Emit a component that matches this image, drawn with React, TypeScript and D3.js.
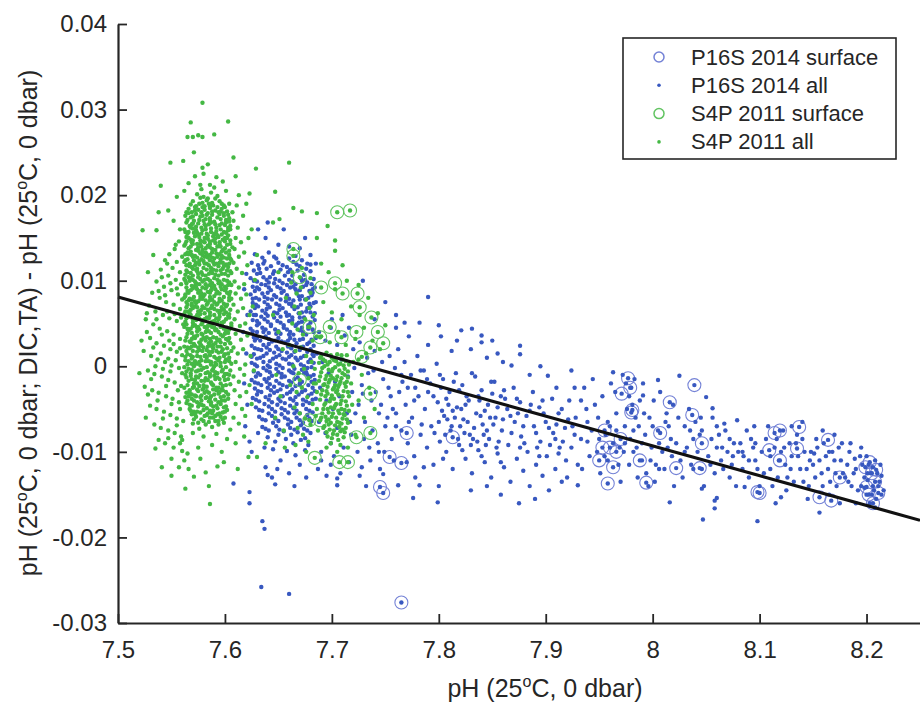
import { useEffect, useRef } from 'react';
import * as d3 from 'd3';

const WIDTH = 920;
const HEIGHT = 705;
const PLOT = { left: 118, right: 920, top: 24, bottom: 623 };

const X_TICKS = [7.5, 7.6, 7.7, 7.8, 7.9, 8.0, 8.1, 8.2];
const Y_TICKS = [-0.03, -0.02, -0.01, 0, 0.01, 0.02, 0.03, 0.04];

const SERIES_NAMES = ['P16S 2014 surface', 'P16S 2014 all', 'S4P 2011 surface', 'S4P 2011 all'];

// fitted line, end points at the axis limits
const FIT_X = [7.5, 8.25];
const FIT_Y = [0.0081, -0.018];

// points are stored as flat pairs:
// first = (pH - 7.5) * 1000, second = ΔpH * 10000

// S4P 2011 surface samples (also part of "all")
const S4P_SURFACE = [
  205, 180, 217, 182, 164, 137, 164, 129, 170, 104, 190, 92, 203, 97, 210, 85, 224, 85, 226, 69,
  237, 57, 223, 40, 243, 40, 179, 46, 198, 46, 189, 34, 209, 34, 248, 27, 236, 22, 228, 11,
  236, -32, 170, -16, 179, -63, 189, -63, 223, -83, 236, -78, 184, -107, 207, -112, 215, -112,
];

// P16S 2014 surface samples (also part of "all")
const P16S_SURFACE = [
  254, -106, 265, -113, 245, -141, 248, -148, 265, -276, 313, -83, 270, -78, 460, -95,
  477, -14, 479, -25, 471, -32, 481, -51, 480, -54, 453, -95, 463, -118, 458, -137, 488, -110,
  494, -136, 455, -75, 470, -85, 466, -100, 450, -110, 516, -42, 539, -22, 537, -57, 507, -78,
  522, -119, 546, -90, 544, -119, 598, -147, 600, -148, 614, -78, 619, -75, 637, -71, 635, -96,
  609, -98, 619, -110, 664, -86, 656, -153, 667, -157, 675, -130, 703, -112, 709, -121,
  700, -141, 705, -125, 708, -135, 702, -150, 711, -148, 699, -118, 706, -160,
];

// S4P 2011 all samples
const S4P_ALL = [
  // dense column near pH 7.58
  74, 201, 80, 198, 87, 203, 93, 199, 78, 207, 90, 209, 84, 196,
  70, 193, 76, 190, 83, 194, 88, 191, 95, 193, 99, 188, 72, 186, 81, 187,
  66, 184, 69, 180, 75, 183, 79, 186, 86, 185, 91, 182, 97, 184, 102, 181, 84, 179,
  63, 176, 68, 174, 73, 178, 77, 175, 82, 172, 88, 177, 93, 174, 99, 176, 104, 173, 71, 170,
  64, 168, 67, 164, 75, 167, 80, 170, 85, 166, 90, 169, 95, 165, 101, 168, 105, 164, 78, 162,
  62, 160, 66, 157, 70, 161, 74, 156, 79, 159, 83, 155, 87, 161, 92, 158, 97, 154, 103, 159, 89, 152,
  64, 151, 68, 148, 72, 152, 77, 147, 81, 150, 86, 146, 91, 149, 95, 145, 100, 150, 105, 147, 74, 143,
  62, 141, 66, 138, 70, 143, 75, 139, 79, 136, 84, 141, 88, 137, 93, 140, 98, 136, 102, 142, 107, 139, 82, 133,
  63, 131, 68, 134, 72, 129, 77, 132, 81, 128, 86, 130, 90, 126, 95, 131, 99, 127, 104, 130, 65, 125,
  62, 122, 67, 120, 71, 124, 76, 119, 80, 123, 85, 118, 89, 122, 94, 117, 98, 121, 103, 116, 106, 124, 74, 114,
  64, 112, 68, 109, 73, 113, 78, 110, 82, 106, 87, 111, 91, 107, 96, 112, 100, 108, 105, 111, 66, 104,
  62, 102, 70, 101, 75, 104, 79, 99, 84, 102, 88, 97, 93, 101, 97, 96, 102, 100, 106, 95, 72, 94,
  64, 92, 68, 89, 73, 93, 77, 88, 82, 91, 86, 86, 91, 90, 95, 85, 100, 89, 104, 84, 63, 84, 80, 82,
  62, 80, 66, 77, 71, 81, 75, 76, 79, 79, 84, 74, 88, 78, 93, 73, 97, 77, 102, 72, 106, 79, 69, 71,
  64, 69, 68, 66, 72, 70, 77, 65, 81, 68, 86, 63, 90, 67, 95, 62, 99, 66, 104, 61, 62, 61, 74, 60,
  66, 58, 70, 55, 75, 59, 79, 54, 83, 57, 88, 52, 92, 56, 97, 51, 101, 55, 106, 50, 63, 52, 85, 48,
  62, 46, 68, 44, 72, 48, 76, 43, 81, 46, 85, 41, 90, 45, 94, 40, 99, 44, 103, 39, 65, 38, 79, 37,
  64, 34, 69, 32, 74, 36, 78, 31, 83, 34, 87, 29, 92, 33, 96, 28, 101, 32, 105, 27, 71, 26, 89, 25,
  62, 23, 67, 21, 72, 24, 76, 19, 80, 22, 85, 17, 89, 21, 94, 16, 98, 20, 103, 15, 65, 14, 82, 13,
  63, 11, 69, 9, 74, 12, 78, 7, 83, 10, 87, 5, 92, 9, 96, 4, 101, 8, 106, 3, 71, 2, 90, 0,
  62, -1, 66, -3, 71, 0, 75, -5, 80, -2, 84, -7, 89, -3, 93, -8, 98, -4, 102, -9, 68, -11, 86, -12,
  64, -13, 69, -15, 73, -12, 78, -17, 82, -14, 87, -19, 91, -15, 96, -20, 100, -16, 105, -21, 76, -23, 94, -25,
  62, -25, 67, -28, 71, -24, 75, -29, 80, -26, 85, -31, 89, -27, 94, -32, 98, -28, 103, -33, 66, -35, 83, -36,
  69, -38, 73, -35, 78, -40, 82, -37, 87, -42, 91, -39, 96, -44, 100, -40, 64, -43, 75, -47, 93, -49,
  67, -50, 71, -53, 80, -51, 84, -55, 89, -52, 98, -54, 102, -51, 73, -59, 78, -62, 86, -60, 91, -64, 96, -59,
  70, -67, 82, -68, 88, -71, 94, -68, 76, -73, 99, -66,
  85, 190, 91, 196, 77, 197, 73, 187, 81, 183, 89, 188, 96, 181, 100, 186,
  66, 179, 70, 175, 79, 176, 86, 173, 95, 178, 101, 171, 69, 166, 73, 163, 82, 164, 87, 168, 92, 162, 97, 167, 103, 162,
  65, 155, 71, 156, 76, 151, 84, 153, 90, 155, 94, 151, 99, 157, 103, 153,
  64, 146, 69, 145, 77, 143, 81, 145, 86, 139, 91, 144, 96, 140, 100, 146, 104, 135,
  66, 131, 70, 128, 75, 135, 79, 130, 84, 127, 88, 133, 93, 128, 97, 134, 102, 126,
  64, 118, 69, 116, 73, 121, 78, 125, 83, 120, 87, 115, 92, 120, 96, 125, 101, 119,
  63, 107, 70, 114, 75, 108, 80, 115, 85, 108, 89, 113, 94, 106, 98, 114, 103, 106,
  64, 97, 67, 100, 73, 97, 77, 102, 82, 96, 86, 100, 90, 94, 95, 99, 100, 93, 104, 98,
  66, 86, 70, 91, 75, 86, 79, 92, 84, 87, 88, 92, 93, 87, 97, 90, 102, 86,
  64, 75, 69, 78, 73, 74, 77, 82, 82, 77, 86, 81, 90, 75, 95, 79, 99, 73, 104, 77,
  66, 64, 70, 68, 75, 64, 79, 70, 84, 66, 88, 71, 93, 65, 97, 69, 101, 63,
  64, 56, 68, 60, 73, 54, 77, 61, 81, 55, 86, 59, 90, 53, 95, 58, 99, 52, 104, 57,
  66, 42, 70, 47, 74, 41, 78, 49, 83, 44, 87, 50, 92, 43, 96, 46, 101, 41,
  67, 29, 71, 35, 76, 28, 80, 33, 85, 27, 89, 34, 93, 30, 98, 35, 103, 30,
  64, 18, 69, 23, 74, 17, 78, 24, 83, 19, 87, 24, 92, 18, 96, 23, 100, 14,
  66, 6, 70, 11, 76, 5, 81, 12, 85, 6, 90, 11, 94, 7, 99, 12, 104, 6,
  64, -6, 69, 3, 73, -6, 77, 1, 82, -8, 87, 2, 91, -7, 96, 0, 100, -9,
  66, -17, 71, -20, 75, -13, 80, -22, 84, -16, 89, -22, 93, -13, 98, -23, 103, -15,
  64, -31, 69, -33, 74, -27, 78, -34, 83, -29, 87, -35, 92, -28, 96, -36, 101, -30,
  67, -45, 71, -40, 76, -44, 80, -46, 85, -41, 89, -47, 94, -42, 99, -48,
  69, -56, 74, -53, 83, -57, 88, -55, 93, -56, 100, -60,
  68, 189, 79, 191, 86, 187, 93, 186, 97, 190,
  64, 180, 72, 182, 78, 180, 83, 177, 88, 181, 94, 180, 99, 179, 103, 177,
  65, 171, 70, 167, 76, 171, 81, 166, 86, 170, 91, 166, 96, 172, 100, 165, 104, 169,
  63, 157, 68, 162, 73, 159, 78, 155, 82, 160, 87, 157, 92, 154, 96, 160, 101, 156, 105, 160,
  66, 150, 70, 147, 75, 154, 80, 146, 84, 149, 89, 147, 93, 153, 98, 148, 102, 150,
  63, 143, 68, 140, 73, 136, 78, 140, 82, 138, 86, 143, 91, 136, 95, 142, 100, 138, 105, 143,
  65, 133, 69, 130, 74, 127, 79, 134, 83, 131, 88, 127, 92, 132, 97, 129, 101, 133, 105, 126,
  63, 124, 67, 117, 72, 118, 76, 123, 81, 120, 86, 124, 90, 119, 95, 121, 99, 117, 104, 120,
  65, 110, 70, 106, 74, 111, 79, 107, 83, 113, 88, 109, 92, 112, 97, 108, 102, 112, 106, 109,
  63, 100, 68, 103, 72, 99, 76, 96, 81, 101, 86, 95, 90, 103, 94, 97, 99, 101, 103, 95,
  65, 88, 69, 94, 74, 90, 78, 85, 83, 93, 87, 89, 92, 85, 96, 93, 101, 91, 105, 87,
  63, 82, 67, 79, 72, 76, 77, 79, 81, 84, 86, 77, 90, 82, 95, 76, 99, 81, 104, 80,
  65, 72, 69, 73, 74, 69, 78, 66, 83, 72, 87, 68, 92, 72, 96, 65, 101, 70, 105, 66,
  63, 64, 67, 62, 72, 57, 76, 56, 81, 62, 85, 56, 90, 60, 94, 55, 99, 61, 103, 59,
  64, 49, 70, 51, 75, 46, 79, 51, 84, 47, 88, 46, 93, 51, 97, 49, 102, 45, 106, 47,
  65, 44, 69, 39, 74, 45, 78, 38, 82, 40, 87, 39, 91, 42, 96, 37, 100, 38, 104, 43,
  63, 30, 68, 28, 72, 33, 77, 26, 82, 30, 86, 32, 91, 27, 95, 31, 100, 26, 104, 33,
  65, 22, 70, 18, 75, 22, 79, 18, 84, 23, 88, 17, 93, 23, 97, 17, 102, 21, 106, 18,
  63, 7, 68, 13, 72, 6, 77, 11, 82, 6, 86, 13, 91, 4, 95, 10, 100, 5, 104, 10,
  65, 2, 69, -4, 74, 3, 78, -4, 83, -1, 88, -5, 92, 2, 97, -6, 101, -1, 105, -5,
  63, -10, 68, -8, 72, -16, 77, -10, 81, -17, 86, -9, 90, -11, 95, -15, 99, -12, 104, -10,
  65, -22, 70, -25, 74, -20, 79, -27, 83, -24, 88, -21, 92, -25, 97, -27, 101, -22,
  63, -36, 67, -31, 72, -34, 77, -36, 81, -31, 86, -38, 90, -33, 95, -30, 99, -35, 103, -38,
  65, -40, 69, -46, 74, -42, 78, -45, 83, -49, 87, -45, 92, -46, 97, -40, 101, -47,
  68, -52, 72, -56, 77, -54, 81, -58, 86, -52, 91, -58, 95, -55, 100, -53,
  71, -62, 75, -66, 80, -64, 85, -65, 89, -60, 94, -64, 98, -62,
  // right edge of the column
  108, 170, 112, 162, 110, 150, 115, 145, 109, 137, 113, 128, 118, 133, 108, 121, 111, 114, 116, 109,
  121, 118, 109, 99, 113, 92, 118, 96, 110, 85, 115, 79, 120, 84, 108, 72, 112, 64, 117, 68,
  123, 60, 109, 55, 114, 47, 119, 50, 110, 38, 115, 31, 121, 36, 108, 22, 112, 15, 117, 20,
  124, 12, 110, 5, 114, -3, 119, 2, 108, -12, 113, -18, 118, -10, 123, -22, 109, -28, 114, -35,
  120, -30, 110, -44, 116, -50, 108, -60, 113, -67, 119, -58, 125, -44, 127, -5, 126, 70, 122, 150,
  128, 101, 107, 180, 111, 188, 104, 190, 117, 176, 125, 160, 130, 130,
  // upper tail
  79, 308, 68, 285, 103, 286, 65, 268, 70, 268, 75, 270, 79, 268, 90, 271, 71, 250, 108, 244,
  49, 238, 61, 240, 79, 232, 84, 236, 80, 225, 160, 238, 129, 231, 40, 211, 66, 214, 77, 212,
  98, 216, 123, 202, 147, 204, 38, 180, 47, 182, 164, 185, 172, 181, 186, 179, 110, 222, 23, 159,
  36, 159, 145, 168, 151, 172, 55, 198, 92, 221, 72, 222, 86, 212, 101, 205, 62, 205, 113, 200,
  120, 190, 52, 170, 58, 160, 33, 130, 28, 110,
  // left halo
  57, 146, 53, 137, 60, 128, 48, 131, 55, 122, 44, 124, 51, 115, 58, 110, 40, 113, 47, 106,
  54, 101, 59, 96, 36, 99, 43, 93, 50, 89, 56, 84, 32, 86, 39, 80, 45, 75, 52, 72,
  58, 67, 29, 71, 35, 64, 42, 60, 48, 56, 55, 53, 61, 49, 26, 55, 33, 49, 39, 44,
  46, 41, 52, 37, 58, 32, 30, 33, 36, 27, 43, 24, 49, 20, 55, 17, 60, 13, 24, 18,
  31, 12, 37, 8, 44, 5, 50, 1, 57, -2, 28, -5, 34, -9, 41, -12, 47, -16, 53, -19,
  59, -23, 25, -24, 32, -28, 38, -31, 45, -35, 51, -38, 57, -42, 30, -46, 36, -50, 43, -53,
  49, -57, 55, -61, 61, -64, 34, -68, 40, -72, 47, -75, 53, -78, 59, -82, 44, -90, 52, -95,
  60, -99, 38, -86, 54, 142, 46, 120, 41, 104, 49, 97, 55, 91, 38, 88, 44, 83, 60, 78,
  27, 62, 46, 64, 53, 61, 36, 55, 59, 57, 41, 37, 48, 30, 27, 40, 33, 22, 52, 26,
  58, 21, 40, 15, 47, 9, 54, 7, 35, 0, 42, -3, 60, -8, 49, -6, 31, -15, 45, -23,
  56, -28, 37, -40, 50, -44, 58, -50, 28, -33, 42, -61, 55, -69, 47, -84, 58, -90, 62, -110,
  50, -108, 35, -96, 26, -60, 22, 30, 20, -8,
  // lower tail
  50, -128, 63, -143, 71, -129, 82, -124, 86, -161, 93, -117, 60, -86, 65, -102, 75, -95, 88, -92,
  97, -100, 102, -85, 80, -82, 70, -78, 92, -79, 105, -74, 110, -90, 118, -82, 122, -106, 130, -106,
  77, -108, 99, -112, 85, -140, 57, -118, 41, -118, 66, -120, 112, -120,
  // mixed into the P16S cloud near pH 7.66
  162, 98, 167, 85, 171, 92, 176, 78, 180, 86, 165, 70, 170, 62, 175, 55, 179, 68, 183, 60,
  163, 50, 168, 43, 173, 37, 178, 46, 182, 30, 160, 25, 166, 18, 171, 22, 176, 12, 181, 5,
  164, 0, 169, -8, 174, -3, 178, -14, 183, -20, 161, -22, 167, -30, 172, -25, 177, -36, 182, -44,
  165, -48, 170, -55, 175, -61, 180, -68, 185, -58, 168, -72, 173, -80, 178, -88, 150, 40, 154, 20,
  148, -10, 152, -35, 145, 60, 157, 80, 147, -60, 155, -75, 186, 35, 184, -3, 186, -30, 163, 110,
  172, 115, 180, 103, 150, 110, 156, -95, 166, -92, 176, -100, 138, -90,
  // second column near pH 7.70
  190, 12, 195, 16, 200, 10, 205, 14, 210, 8, 214, 13, 188, 4, 193, 0, 198, 5, 203, -1,
  208, 3, 212, -3, 216, 2, 190, -7, 195, -11, 200, -6, 205, -12, 210, -8, 215, -13, 188, -17,
  193, -21, 198, -16, 203, -22, 208, -18, 213, -24, 191, -28, 196, -32, 201, -27, 206, -33, 211, -29,
  216, -35, 189, -39, 194, -43, 199, -38, 204, -44, 209, -40, 214, -46, 192, -50, 197, -54, 202, -49,
  207, -55, 212, -51, 190, -60, 195, -64, 200, -59, 205, -65, 210, -61, 215, -66, 193, -70, 198, -74,
  203, -69, 208, -76, 213, -72, 196, -82, 201, -79, 206, -86, 211, -83,
  192, 8, 197, -4, 202, 7, 207, -5, 212, -10, 196, -24, 201, -14, 206, -24, 194, -35, 199, -48,
  204, -30, 209, -50, 197, -62, 202, -38, 207, -66, 212, -57, 218, -20, 219, -45, 220, 5, 185, -20,
  186, -50, 187, -75,
  189, 10, 194, 6, 199, 13, 204, 6, 209, 13, 213, 6, 191, -2, 196, 2, 201, -3, 206, 2,
  211, 1, 215, -6, 189, -12, 194, -15, 199, -11, 204, -16, 209, -14, 214, -18, 192, -22, 197, -19,
  202, -25, 207, -21, 212, -20, 190, -33, 195, -29, 200, -34, 205, -28, 210, -35, 215, -30, 193, -45,
  198, -41, 203, -46, 208, -44, 213, -41, 191, -55, 196, -50, 201, -55, 206, -52, 211, -56, 216, -52,
  194, -59, 199, -66, 204, -60, 209, -67, 214, -62, 192, -72, 197, -68, 202, -75, 207, -71, 212, -77,
  195, -77, 200, -84, 205, -80, 210, -74, 199, -90, 208, -92,
  190, 35, 198, 28, 206, 40, 213, 25, 222, 32, 230, 45, 238, 30, 226, 60, 218, 70, 209, 55,
  200, 63, 192, 75, 203, 90, 214, 100, 225, 95, 234, 80, 243, 62, 250, 48, 245, 20, 232, 15,
  225, 8, 190, 120, 197, 110, 210, 118, 186, 150, 203, 147, 203, 135, 196, 164, 225, -40, 230, -60,
  222, -80, 235, -25, 228, -10, 240, -50, 215, -95, 205, -100, 195, -95,
];

// P16S 2014 all samples
const P16S_ALL = [
  // cloud near pH 7.63-7.68
  128, 131, 135, 127, 141, 133, 148, 126, 166, 129, 172, 124,
  125, 121, 131, 118, 137, 123, 143, 117, 150, 121, 158, 116, 164, 122, 170, 117, 177, 120,
  127, 112, 133, 109, 139, 114, 145, 108, 152, 113, 159, 110, 163, 106, 168, 112, 174, 107, 180, 111,
  124, 103, 130, 99, 136, 104, 141, 98, 147, 102, 154, 97, 160, 101, 166, 96, 171, 103, 177, 98, 183, 102,
  126, 93, 132, 90, 138, 95, 143, 89, 149, 93, 155, 88, 161, 92, 167, 87, 173, 93, 179, 88, 184, 92,
  124, 84, 129, 80, 135, 85, 140, 79, 146, 83, 152, 78, 158, 83, 164, 77, 169, 82, 175, 78, 181, 83,
  126, 74, 131, 70, 137, 75, 142, 69, 148, 73, 154, 68, 160, 73, 165, 67, 171, 72, 177, 68, 183, 74,
  124, 64, 129, 60, 135, 65, 140, 59, 146, 63, 152, 58, 157, 63, 163, 57, 169, 62, 174, 57, 180, 63,
  126, 54, 132, 50, 137, 55, 143, 49, 149, 53, 155, 48, 160, 53, 166, 47, 172, 52, 178, 48, 184, 54,
  124, 44, 130, 40, 135, 45, 141, 39, 147, 43, 152, 38, 158, 43, 164, 37, 170, 42, 176, 37, 182, 43,
  127, 34, 133, 30, 138, 35, 144, 29, 150, 33, 156, 28, 161, 33, 167, 27, 173, 32, 179, 28, 185, 33,
  125, 24, 131, 20, 136, 25, 142, 19, 148, 23, 153, 18, 159, 23, 165, 17, 171, 22, 177, 17, 183, 24,
  127, 14, 133, 10, 139, 15, 145, 9, 151, 13, 157, 8, 162, 13, 168, 7, 174, 12, 180, 8,
  125, 4, 130, 0, 136, 5, 142, -1, 148, 3, 154, -2, 160, 3, 165, -3, 171, 2, 177, -2, 183, 4,
  127, -6, 133, -10, 139, -5, 144, -11, 150, -7, 156, -12, 162, -7, 168, -13, 174, -8, 180, -12,
  125, -16, 131, -20, 137, -15, 142, -21, 148, -17, 154, -22, 160, -17, 166, -23, 172, -18, 178, -22, 184, -16,
  128, -26, 134, -30, 140, -25, 146, -31, 152, -27, 158, -32, 163, -27, 169, -33, 175, -28, 181, -32,
  126, -37, 132, -41, 138, -36, 144, -42, 150, -38, 156, -43, 161, -38, 167, -44, 173, -39, 179, -43, 185, -38,
  129, -48, 135, -52, 141, -47, 147, -53, 153, -49, 159, -54, 164, -49, 170, -55, 176, -50, 182, -54,
  132, -59, 138, -63, 144, -58, 150, -64, 156, -60, 162, -65, 167, -60, 173, -66, 179, -61,
  135, -71, 141, -75, 148, -70, 155, -76, 161, -72, 168, -77, 174, -73, 180, -78,
  140, -83, 147, -88, 157, -85, 164, -90, 171, -86, 178, -92,
  145, -97, 158, -99, 166, -104, 175, -98, 152, -110, 170, -115,
  130, 108, 142, 104, 156, 106, 172, 100, 134, 96, 146, 97, 158, 95, 176, 95, 128, 88, 140, 86,
  153, 86, 166, 90, 182, 86, 132, 78, 144, 78, 157, 76, 170, 78, 180, 70, 128, 68, 139, 67,
  151, 66, 163, 70, 176, 64, 134, 58, 146, 57, 158, 59, 170, 57, 182, 58, 130, 48, 143, 47,
  155, 45, 167, 49, 178, 44, 136, 40, 148, 38, 160, 37, 173, 40, 128, 30, 141, 26, 153, 29,
  165, 31, 177, 26, 134, 19, 146, 16, 158, 16, 170, 19, 182, 14, 130, 9, 142, 6, 154, 9,
  166, 10, 178, 5, 136, -2, 148, -3, 160, -5, 172, -4, 129, -12, 141, -14, 153, -13, 165, -15,
  177, -10, 134, -22, 146, -24, 158, -24, 170, -22, 182, -25, 130, -33, 142, -34, 154, -35, 166, -36,
  178, -34, 137, -44, 149, -45, 161, -46, 173, -45, 141, -55, 153, -56, 165, -55, 177, -57, 145, -66,
  159, -68, 171, -69, 150, -80, 162, -80, 175, -84,
  132, 114, 146, 111, 161, 113, 176, 114, 127, 100, 139, 101, 151, 100, 163, 99, 175, 101, 181, 96,
  130, 92, 141, 92, 152, 91, 164, 93, 170, 89, 182, 90, 126, 79, 137, 81, 148, 81, 160, 79,
  172, 82, 178, 80, 129, 72, 140, 72, 151, 71, 162, 73, 168, 69, 179, 73, 127, 60, 138, 62,
  149, 62, 160, 60, 172, 63, 184, 62, 130, 53, 140, 52, 152, 51, 163, 54, 169, 51, 180, 51,
  126, 41, 138, 43, 150, 41, 161, 40, 172, 45, 183, 40, 130, 33, 141, 32, 147, 30, 159, 30,
  170, 31, 181, 31, 128, 21, 139, 22, 150, 20, 162, 21, 173, 23, 180, 20, 125, 11, 136, 12,
  148, 11, 160, 11, 171, 10, 183, 12, 128, 2, 140, 1, 151, 1, 163, 2, 174, 0, 181, -1,
  131, -8, 142, -7, 153, -9, 164, -8, 176, -7, 183, -10, 128, -19, 139, -18, 151, -20, 162, -19,
  170, -20, 181, -18, 131, -29, 143, -28, 149, -29, 161, -30, 172, -30, 184, -29, 129, -39, 141, -39,
  152, -41, 164, -40, 176, -41, 182, -39, 132, -51, 144, -50, 156, -51, 167, -52, 179, -52, 135, -62,
  147, -61, 159, -62, 170, -63, 181, -64, 138, -73, 151, -74, 165, -74, 177, -75, 136, 120, 154, 118,
  167, 119, 180, 119, 146, 128, 160, 126,
  // its fringe and the low outliers
  120, 108, 118, 90, 121, 60, 117, 40, 120, 15, 118, -20, 121, -45, 119, -70, 123, -88, 131, -78,
  137, -95, 149, -120, 160, -125, 144, -130, 138, -118, 125, -100, 123, -147, 123, -160, 140, -127, 135, -181,
  137, -190, 134, -258, 160, -266, 108, -137, 131, 160, 138, 150, 150, 142, 160, 140, 170, 138, 180, 130,
  155, 160, 175, 150, 185, 120, 140, 168, 190, -100, 187, -120, 176, -130, 165, -140, 199, -115, 147, -138,
  // pH 7.69-7.76
  188, 40, 194, 30, 199, 45, 205, 25, 212, 36, 220, 20, 226, 28, 233, 10, 240, 18, 247, 5,
  254, 12, 259, -2, 186, 15, 191, 5, 197, -8, 203, -18, 209, 8, 215, -12, 221, -2, 228, -22,
  234, -8, 241, -30, 248, -15, 255, -35, 189, -25, 195, -40, 201, -50, 207, -35, 214, -55, 219, -30,
  225, -45, 231, -65, 237, -40, 244, -55, 250, -70, 257, -50, 188, -65, 194, -78, 199, -90, 205, -72,
  211, -95, 218, -80, 224, -100, 230, -85, 236, -110, 243, -90, 249, -100, 256, -85, 190, -110, 202, -105,
  216, -112, 228, -118, 238, -75, 245, -120, 252, -60, 258, -110, 217, -65, 222, -55, 229, -32, 239, -5,
  246, -45, 253, -25, 260, -70, 208, -125, 205, -131, 205, -139, 195, -128, 226, -128, 232, -140, 248, -126,
  262, -139, 282, -139, 276, -154, 299, -159, 229, 100, 250, 75, 260, 60, 240, 55, 216, 45, 210, 60,
  235, -95, 244, -100, 200, 55, 185, 75,
  // pH 7.76-7.94
  262, 20, 268, 5, 274, -10, 280, 12, 286, -5, 292, -20, 298, 3, 304, -15, 310, -30, 316, -8,
  322, -22, 328, -40, 334, -12, 340, -28, 346, -45, 352, -18, 358, -35, 364, -50, 370, -25, 376, -42,
  382, -58, 388, -30, 394, -48, 400, -65, 406, -38, 412, -55, 418, -72,
  263, -30, 269, -45, 275, -60, 281, -35, 287, -50, 293, -70, 299, -42, 305, -58, 311, -75, 317, -48,
  323, -62, 329, -80, 335, -55, 341, -68, 347, -85, 353, -60, 359, -75, 365, -92, 371, -65, 377, -82,
  383, -100, 389, -70, 395, -88, 401, -105, 407, -78, 413, -95, 419, -110,
  265, -75, 271, -90, 277, -105, 283, -80, 289, -95, 295, -115, 301, -88, 307, -100, 313, -120, 319, -92,
  325, -108, 331, -125, 337, -98, 343, -112, 349, -130, 355, -102, 361, -118, 367, -135, 373, -108, 379, -122,
  385, -140, 391, -115, 397, -128, 403, -145, 409, -120, 415, -135,
  260, -55, 266, -18, 272, -65, 278, -25, 284, -68, 290, -30, 296, -78, 302, -25, 308, -62, 314, -18,
  320, -70, 326, -35, 332, -85, 338, -40, 344, -92, 350, -32, 356, -88, 362, -38, 368, -78, 374, -55,
  380, -90, 386, -45, 392, -95, 398, -55, 404, -92, 410, -68, 416, -88,
  268, 51, 282, 51, 290, 81, 321, 42, 331, 44, 340, 36, 350, 30, 317, 30, 376, 24, 376, 14,
  340, 28, 368, 1, 402, -11, 424, -5, 302, 35, 290, 25, 312, 18, 345, 10, 360, 5, 385, -10,
  395, 0, 410, -25, 272, 35, 260, 45, 355, 15, 330, 20, 300, 48,
  430, -139, 420, -130, 358, -150, 330, -145, 300, -140, 278, -130, 345, -140, 390, -155, 375, -160,
  303, -52, 309, -45, 315, -60, 321, -50, 327, -65, 333, -72, 339, -58, 345, -75, 351, -68, 306, -80,
  318, -85, 330, -92, 342, -80, 354, -95, 312, -70, 324, -78, 336, -88, 348, -60, 300, -65, 360, -62,
  265, -10, 271, -25, 277, -40, 283, -5, 289, -15, 295, -35, 301, -10, 307, -38, 313, -52, 319, -28,
  325, -45, 331, -8, 337, -35, 343, -52, 349, -18, 355, -48, 361, -28, 367, -58, 373, -38, 379, -70,
  385, -52, 391, -78, 397, -40, 403, -72, 409, -85, 415, -50, 421, -62, 427, -80, 433, -40, 439, -65,
  270, -112, 286, -118, 304, -108, 322, -98, 340, -105, 358, -112, 376, -95, 394, -105, 412, -102,
  // pH 7.92-8.22
  422, -40, 428, -60, 433, -85, 438, -50, 443, -75, 448, -100, 453, -35, 458, -65, 463, -90, 468, -115,
  424, -95, 430, -115, 436, -25, 441, -105, 446, -45, 451, -125, 456, -80, 461, -20, 466, -55, 470, -135,
  425, -70, 434, -120, 444, -15, 449, -60, 455, -105, 460, -70, 465, -30, 469, -95, 427, -25, 439, -88,
  472, -10, 475, -20, 478, -35, 481, -45, 484, -60, 476, -50, 480, -25, 483, -15, 487, -70, 474, -70,
  479, -85, 485, -95, 490, -110, 493, -80, 497, -60, 501, -40, 505, -75, 509, -100, 513, -55, 517, -85,
  488, -40, 494, -125, 499, -95, 503, -115, 507, -30, 511, -120, 515, -70, 519, -45, 491, -20, 496, -140,
  502, -135, 486, -130, 478, -115, 473, -100, 506, -90, 512, -65, 518, -105, 482, -75, 492, -55, 500, -70,
  522, -90, 526, -110, 530, -70, 534, -50, 538, -85, 542, -100, 546, -120, 550, -36, 556, -49, 556, -60,
  560, -95, 564, -110, 568, -75, 572, -130, 576, -90, 580, -100, 584, -120, 588, -75, 592, -85, 596, -110,
  524, -60, 528, -130, 532, -95, 536, -115, 540, -65, 544, -80, 548, -140, 552, -105, 558, -125, 562, -80,
  567, -67, 570, -100, 574, -115, 579, -63, 582, -90, 586, -141, 590, -130, 594, -95, 598, -120, 525, -11,
  505, -16, 491, -34, 463, -7, 520, -140, 546, -143, 560, -154, 558, -157, 558, -166, 547, -179, 516, -159,
  598, -181, 535, -75, 545, -60, 555, -85, 565, -95, 575, -105, 585, -105, 595, -70, 600, -140,
  602, -100, 606, -85, 610, -120, 614, -95, 618, -110, 622, -75, 626, -130, 630, -105, 634, -90, 638, -120,
  642, -100, 646, -140, 650, -115, 654, -95, 658, -125, 662, -105, 666, -135, 670, -110, 674, -95, 678, -125,
  682, -115, 686, -140, 690, -120, 694, -105, 698, -130, 702, -115, 706, -140, 710, -125, 714, -150, 604, -125,
  608, -70, 612, -140, 616, -85, 620, -100, 624, -115, 628, -90, 632, -135, 636, -105, 640, -85, 644, -120,
  648, -100, 652, -130, 656, -110, 660, -90, 664, -120, 668, -100, 672, -140, 676, -110, 680, -130, 684, -100,
  688, -125, 692, -145, 696, -115, 700, -150, 704, -125, 708, -110, 712, -135, 716, -145, 700, -105, 703, -160,
  709, -155, 706, -118, 711, -140, 698, -142, 701, -133, 714, -128, 705, -150, 708, -165, 659, -75, 651, -102,
  620, -153, 656, -171, 640, -65, 630, -70, 670, -80, 685, -90, 695, -95, 645, -155, 675, -160, 690, -160,
  665, -150, 625, -145, 615, -160,
  610, -105, 617, -130, 623, -95, 629, -120, 635, -80, 641, -135, 647, -110, 653, -85, 659, -140, 665, -100,
  671, -125, 677, -90, 683, -135, 689, -108, 695, -140, 701, -125, 707, -145, 713, -115, 560, -70, 566, -120,
  572, -85, 578, -140, 584, -100, 590, -110, 596, -90, 530, -100, 538, -120, 546, -75, 554, -115, 450, -85,
  458, -110, 466, -75, 474, -90, 482, -100, 490, -90, 498, -110, 506, -120, 514, -95,
];

const COLORS = {
  p16sDot: '#3858c0',
  p16sRing: '#7482d6',
  s4pDot: '#44b844',
  s4pRing: '#62c462',
  ink: '#262626',
};

const FONT = '"Liberation Sans", Arial, Helvetica, sans-serif';
const DOT_R = 2.2;

function toPoints(flat: number[]): [number, number][] {
  const out: [number, number][] = [];
  for (let i = 0; i < flat.length; i += 2) {
    out.push([7.5 + flat[i] / 1000, flat[i + 1] / 10000]);
  }
  return out;
}

const s4pSurface = toPoints(S4P_SURFACE);
const p16sSurface = toPoints(P16S_SURFACE);
// the "all" series include the surface samples
const s4pAll = toPoints(S4P_ALL).concat(s4pSurface);
const p16sAll = toPoints(P16S_ALL).concat(p16sSurface);

export default function App() {
  const xAxisRef = useRef<SVGGElement>(null);
  const yAxisRef = useRef<SVGGElement>(null);

  const x = d3.scaleLinear().domain([7.5, 8.25]).range([PLOT.left, PLOT.right]);
  const y = d3.scaleLinear().domain([-0.03, 0.04]).range([PLOT.bottom, PLOT.top]);

  const fitPath = d3
    .line<number>()
    .x((d) => x(d))
    .y((_, i) => y(FIT_Y[i]))(FIT_X);

  useEffect(() => {
    const fmt = (v: d3.NumberValue) => String(+(+v).toFixed(2));
    const style = (g: d3.Selection<SVGGElement, unknown, null, undefined>) => {
      g.select('.domain').attr('stroke', COLORS.ink).attr('stroke-width', 2.2);
      g.selectAll('.tick line').attr('stroke', COLORS.ink).attr('stroke-width', 1.8);
      g.selectAll('.tick text')
        .attr('fill', COLORS.ink)
        .style('font-family', FONT)
        .style('font-size', '24px');
    };
    d3.select(xAxisRef.current!)
      .call(d3.axisBottom(x).tickValues(X_TICKS).tickSizeInner(-9).tickSizeOuter(0).tickPadding(18).tickFormat(fmt))
      .call(style);
    d3.select(yAxisRef.current!)
      .call(d3.axisLeft(y).tickValues(Y_TICKS).tickSizeInner(-9).tickSizeOuter(0).tickPadding(11).tickFormat(fmt))
      .call(style);
  }, []);

  const legendRows = [
    { kind: 'ring', color: COLORS.p16sRing },
    { kind: 'dot', color: COLORS.p16sDot },
    { kind: 'ring', color: COLORS.s4pRing },
    { kind: 'dot', color: COLORS.s4pDot },
  ];

  return (
    <div style={{ position: 'absolute', left: 0, top: 0 }}>
      <svg width={WIDTH} height={HEIGHT} style={{ display: 'block', background: '#fff' }}>
        <g>
          {p16sSurface.map((d, i) => (
            <circle key={`ps${i}`} cx={x(d[0])} cy={y(d[1])} r={6.5} fill="none" stroke={COLORS.p16sRing} strokeWidth={1.1} />
          ))}
          {p16sAll.map((d, i) => (
            <circle key={`pa${i}`} cx={x(d[0])} cy={y(d[1])} r={DOT_R} fill={COLORS.p16sDot} />
          ))}
          {s4pSurface.map((d, i) => (
            <circle key={`ss${i}`} cx={x(d[0])} cy={y(d[1])} r={6.5} fill="none" stroke={COLORS.s4pRing} strokeWidth={1.1} />
          ))}
          {s4pAll.map((d, i) => (
            <circle key={`sa${i}`} cx={x(d[0])} cy={y(d[1])} r={DOT_R} fill={COLORS.s4pDot} />
          ))}
        </g>
        <path d={fitPath ?? ''} fill="none" stroke="#111" strokeWidth={3.2} />
        <g ref={xAxisRef} transform={`translate(0,${PLOT.bottom})`} />
        <g ref={yAxisRef} transform={`translate(${PLOT.left},0)`} />

        <text x={545} y={697} textAnchor="middle" fill={COLORS.ink} style={{ fontFamily: FONT, fontSize: 25 }}>
          pH (25<tspan dy={-10} fontSize={16}>o</tspan>
          <tspan dy={10}>C, 0 dbar)</tspan>
        </text>
        <text
          transform="translate(37,323) rotate(-90)"
          textAnchor="middle"
          fill={COLORS.ink}
          style={{ fontFamily: FONT, fontSize: 25 }}
        >
          pH (25<tspan dy={-10} fontSize={16}>o</tspan>
          <tspan dy={10}>C, 0 dbar; DIC,TA) - pH (25</tspan>
          <tspan dy={-10} fontSize={16}>o</tspan>
          <tspan dy={10}>C, 0 dbar)</tspan>
        </text>

        <g transform="translate(623,38)">
          <rect x={0} y={0} width={273} height={121} fill="#fff" stroke={COLORS.ink} strokeWidth={1.6} />
          {SERIES_NAMES.map((name, i) => {
            const cy = 19 + i * 28.3;
            const row = legendRows[i];
            return (
              <g key={name}>
                {row.kind === 'ring' ? (
                  <circle cx={36} cy={cy} r={5} fill="none" stroke={row.color} strokeWidth={1.5} />
                ) : (
                  <circle cx={36} cy={cy} r={1.8} fill={row.color} />
                )}
                <text x={68} y={cy} dominantBaseline="central" fill={COLORS.ink} style={{ fontFamily: FONT, fontSize: 22 }}>
                  {name}
                </text>
              </g>
            );
          })}
        </g>
      </svg>
    </div>
  );
}
